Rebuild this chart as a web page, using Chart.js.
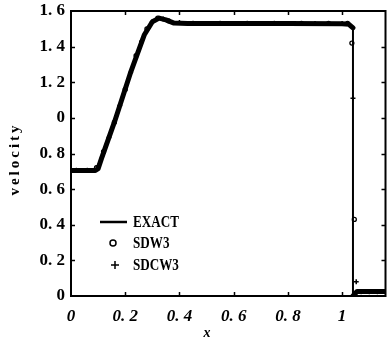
<!DOCTYPE html>
<html>
<head>
<meta charset="utf-8">
<script src="https://cdn.jsdelivr.net/npm/chart.js@4/dist/chart.umd.min.js"></script>
<style>
  html, body { margin: 0; padding: 0; background: #fff; }
  canvas { display: block; }
</style>
</head>
<body>
<canvas id="velocity-chart" width="391" height="347"></canvas>
<script>
// axis ticks
const xTickValues = [0, 0.2, 0.4, 0.6, 0.8, 1.0];
const xTickLabels = ['0', '0. 2', '0. 4', '0. 6', '0. 8', '1'];
const yTickValues = [0, 0.2, 0.4, 0.6, 0.8, 1.0, 1.2, 1.4, 1.6];
const yTickLabels = ['0', '0. 2', '0. 4', '0. 6', '0. 8', '0', '1. 2', '1. 4', '1. 6'];

// exact solution
const exactX = [0, 0.09, 0.10, 0.112, 0.161, 0.221, 0.270, 0.300, 0.325, 0.350, 0.380, 0.430, 0.60, 0.80, 1.00, 1.025, 1.040, 1.040, 1.055, 1.16];
const exactY = [0.705, 0.705, 0.715, 0.77, 0.98, 1.26, 1.465, 1.54, 1.56, 1.55, 1.532, 1.53, 1.53, 1.53, 1.528, 1.525, 1.505, 0.0, 0.025, 0.025];

// SDW3 scheme
const sdw3X = [0.02, 0.06, 0.094, 0.12, 0.16, 0.20, 0.24, 0.28, 0.32, 0.36, 0.45, 0.55, 0.65, 0.75, 0.85, 0.95, 1.02, 1.036, 1.045, 1.07, 1.10, 1.13];
const sdw3Y = [0.705, 0.705, 0.72, 0.81, 0.975, 1.16, 1.35, 1.50, 1.56, 1.545, 1.53, 1.53, 1.53, 1.53, 1.53, 1.53, 1.53, 1.42, 0.43, 0.025, 0.025, 0.025];

// SDCW3 scheme
const sdcw3X = [0.04, 0.08, 0.10, 0.14, 0.18, 0.22, 0.26, 0.30, 0.34, 0.40, 0.50, 0.60, 0.70, 0.80, 0.90, 1.00, 1.04, 1.052, 1.08, 1.12, 1.15];
const sdcw3Y = [0.705, 0.705, 0.73, 0.89, 1.07, 1.255, 1.43, 1.54, 1.555, 1.535, 1.53, 1.53, 1.53, 1.53, 1.53, 1.53, 1.11, 0.08, 0.025, 0.025, 0.025];

const serif = '"Liberation Serif", "Times New Roman", serif';

function toPoints(xs, ys) {
  return xs.map((x, i) => ({ x: x, y: ys[i] }));
}

// frame, inward tick marks, legend and axis titles
const framePlugin = {
  id: 'frame',
  afterDraw(chart) {
    const ctx = chart.ctx;
    const a = chart.chartArea;
    const xs = chart.scales.x;
    const ys = chart.scales.y;
    ctx.save();
    ctx.strokeStyle = '#000';
    ctx.lineWidth = 2;
    ctx.strokeRect(a.left, a.top, a.right - a.left, a.bottom - a.top);

    ctx.lineWidth = 1.5;
    ctx.beginPath();
    xTickValues.forEach(v => {
      const px = Math.round(xs.getPixelForValue(v)) + 0.5;
      if (v === 0) return;
      ctx.moveTo(px, a.bottom); ctx.lineTo(px, a.bottom - 4);
      ctx.moveTo(px, a.top); ctx.lineTo(px, a.top + 4);
    });
    yTickValues.forEach(v => {
      const py = Math.round(ys.getPixelForValue(v)) + 0.5;
      if (v === 0 || v === 1.6) return;
      ctx.moveTo(a.left, py); ctx.lineTo(a.left + 4, py);
      ctx.moveTo(a.right, py); ctx.lineTo(a.right - 4, py);
    });
    ctx.stroke();

    // legend
    const lx = a.left + 29;
    const tx = a.left + 62;
    const rows = [a.top + 211, a.top + 232, a.top + 254];
    ctx.lineWidth = 2.5;
    ctx.beginPath();
    ctx.moveTo(lx, rows[0]); ctx.lineTo(lx + 27, rows[0]);
    ctx.stroke();
    ctx.lineWidth = 1.5;
    ctx.beginPath();
    ctx.arc(lx + 13, rows[1], 3, 0, Math.PI * 2);
    ctx.stroke();
    ctx.beginPath();
    ctx.moveTo(lx + 11, rows[2]); ctx.lineTo(lx + 19, rows[2]);
    ctx.moveTo(lx + 15, rows[2] - 4); ctx.lineTo(lx + 15, rows[2] + 4);
    ctx.stroke();

    ctx.fillStyle = '#000';
    ctx.font = 'bold 16px ' + serif;
    ctx.textBaseline = 'middle';
    ctx.textAlign = 'left';
    chart.data.datasets.forEach((ds, i) => {
      ctx.save();
      ctx.translate(tx, rows[i] + 1);
      ctx.scale(0.82, 1);
      ctx.fillText(ds.label, 0, 0);
      ctx.restore();
    });

    // axis titles
    ctx.font = 'bold italic 14px ' + serif;
    ctx.textAlign = 'center';
    ctx.fillText('x', a.left + 136, 333);

    ctx.save();
    ctx.translate(15, 160);
    ctx.rotate(-Math.PI / 2);
    ctx.font = 'bold 15px ' + serif;
    ctx.letterSpacing = '3px';
    ctx.fillText('velocity', 1, 0);
    ctx.restore();

    ctx.restore();
  }
};

new Chart(document.getElementById('velocity-chart'), {
  type: 'scatter',
  data: {
    datasets: [
      {
        label: 'EXACT',
        data: toPoints(exactX, exactY),
        showLine: true,
        borderColor: '#000',
        borderWidth: 5,
        borderJoinStyle: 'round',
        borderCapStyle: 'round',
        pointRadius: 0,
        segment: {
          borderWidth: c => (c.p0.parsed.x === c.p1.parsed.x ? 2 : 5)
        }
      },
      {
        label: 'SDW3',
        data: toPoints(sdw3X, sdw3Y),
        pointStyle: 'circle',
        pointRadius: 2,
        borderColor: '#000',
        backgroundColor: 'rgba(0,0,0,0)',
        borderWidth: 1.3
      },
      {
        label: 'SDCW3',
        data: toPoints(sdcw3X, sdcw3Y),
        pointStyle: 'cross',
        pointRadius: 2.5,
        borderColor: '#000',
        borderWidth: 1.5
      }
    ]
  },
  options: {
    responsive: false,
    devicePixelRatio: 1,
    animation: false,
    layout: { padding: { top: 11, right: 2, left: 0, bottom: 0 } },
    plugins: {
      legend: { display: false },
      tooltip: { enabled: false }
    },
    scales: {
      x: {
        type: 'linear',
        min: 0,
        max: 1.16,
        afterBuildTicks: s => { s.ticks = xTickValues.map(v => ({ value: v })); },
        afterFit: s => {
          s.height = 51;
          s.paddingLeft = 0; s.paddingRight = 0;
        },
        grid: { display: false, drawTicks: false },
        border: { display: false },
        ticks: {
          padding: 10,
          color: '#000',
          maxRotation: 0,
          font: { family: serif, size: 17, weight: 'bold', style: 'italic' },
          callback: (v, i) => xTickLabels[i]
        }
      },
      y: {
        type: 'linear',
        min: 0,
        max: 1.6,
        afterBuildTicks: s => { s.ticks = yTickValues.map(v => ({ value: v })); },
        afterFit: s => {
          s.width = 71;
          s.paddingTop = 0; s.paddingBottom = 0;
        },
        grid: { display: false, drawTicks: false },
        border: { display: false },
        ticks: {
          padding: 6,
          color: '#000',
          font: { family: serif, size: 17, weight: 'bold' },
          callback: (v, i) => yTickLabels[i]
        }
      }
    }
  },
  plugins: [framePlugin]
});
</script>
</body>
</html>
